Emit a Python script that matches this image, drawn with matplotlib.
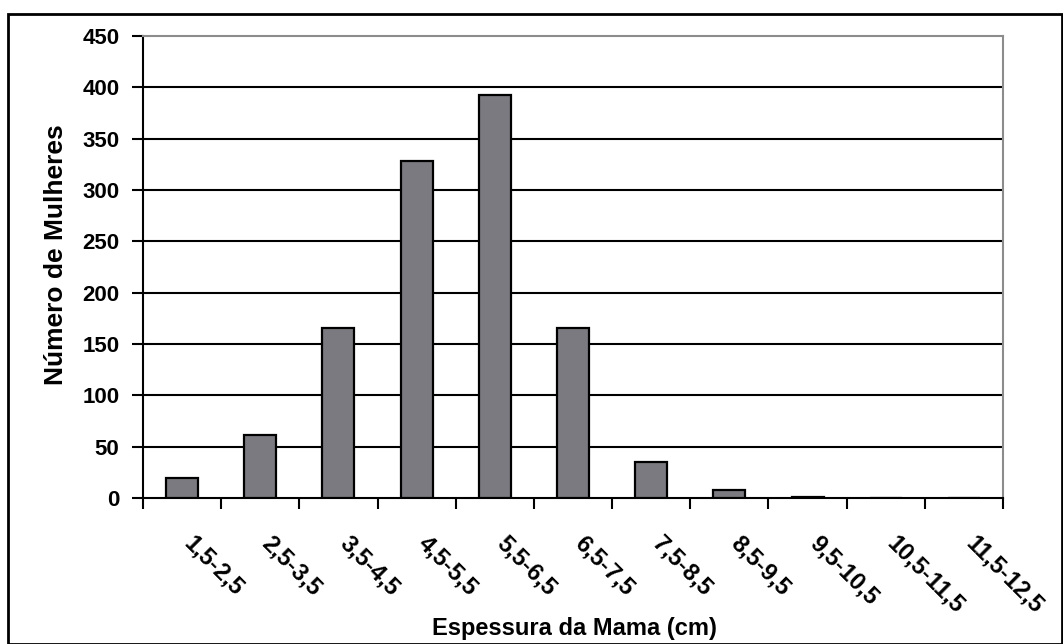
import matplotlib
matplotlib.use("Agg")
import matplotlib.pyplot as plt
import numpy as np
from matplotlib.patches import Rectangle

# categories (breast thickness ranges) and counts
categories = ['1,5-2,5', '2,5-3,5', '3,5-4,5', '4,5-5,5', '5,5-6,5', '6,5-7,5',
              '7,5-8,5', '8,5-9,5', '9,5-10,5', '10,5-11,5', '11,5-12,5']
counts = [19, 61, 166, 328, 393, 166, 35, 8, 1, 0, 0]
y_ticks = [0, 50, 100, 150, 200, 250, 300, 350, 400, 450]

plt.rcParams['font.family'] = ['Liberation Sans', 'DejaVu Sans']
plt.rcParams['font.weight'] = 'bold'

fig = plt.figure(figsize=(10.63, 6.44), dpi=100)
ax = fig.add_axes([0.1345, 0.2267, 0.8091, 0.7174])

x = np.arange(len(categories))
ax.bar(x, counts, width=0.41, color='#7a7a80', edgecolor='black', linewidth=1.6, zorder=3)

ax.set_xlim(-0.5, len(categories) - 0.5)
ax.set_ylim(0, 450)
ax.set_yticks(y_ticks)
ax.set_yticklabels([str(v) for v in y_ticks], fontsize=16, fontweight='bold')

# gridlines (black), top one gray
for v in y_ticks[1:-1]:
    ax.axhline(v, color='black', linewidth=1.5, zorder=1)

ax.set_xticks(np.arange(len(categories) + 1) - 0.5)
ax.set_xticklabels([])
ax.tick_params(axis='x', direction='out', length=8, width=1.5, color='black')
ax.tick_params(axis='y', direction='out', length=8, width=1.5, color='black', pad=9)

for i, lab in enumerate(categories):
    ax.text(i + 0.17, -33, lab, rotation=-45, rotation_mode='anchor',
            ha='left', va='top', fontsize=17, fontweight='bold', clip_on=False)

ax.spines['left'].set_color('black')
ax.spines['left'].set_linewidth(1.5)
ax.spines['bottom'].set_color('black')
ax.spines['bottom'].set_linewidth(1.5)
ax.spines['top'].set_color('#8c8c8c')
ax.spines['top'].set_linewidth(1.5)
ax.spines['right'].set_color('#8c8c8c')
ax.spines['right'].set_linewidth(1.5)

fig.text(0.0527, 0.604, 'Número de Mulheres', rotation=90, ha='center', va='center',
         fontsize=19, fontweight='bold')
fig.text(0.540, 0.014, 'Espessura da Mama (cm)', ha='center', va='baseline',
         fontsize=17, fontweight='bold')

# outer frame
fig.patches.append(Rectangle((8 / 1063, 0), 1 - 8 / 1063 - 0.001, 1 - 14 / 644,
                             transform=fig.transFigure, fill=False,
                             edgecolor='black', linewidth=2))

fig.savefig('out.png', dpi=100)
